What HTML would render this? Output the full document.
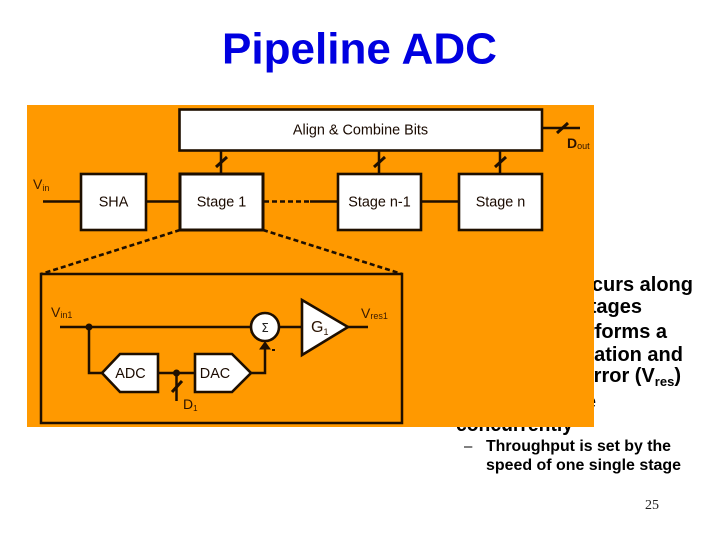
<!DOCTYPE html>
<html><head><meta charset="utf-8"><style>
html,body{margin:0;padding:0;background:#fff;width:720px;height:540px;overflow:hidden}
svg{display:block;font-family:"Liberation Sans",sans-serif}
.b{font-weight:bold;font-size:20px;fill:#000}
.s{font-weight:bold;font-size:16px;fill:#000}
.l{font-size:14.400px;fill:#1a0a00;text-anchor:middle}
.v{font-size:13px;fill:#3a1a00}
.w{fill:#fff;stroke:#1e0f00;stroke-width:2.600}
.n{fill:none;stroke:#1e0f00;stroke-width:2.500}
.d{fill:none;stroke:#1e0f00;stroke-width:2.600;stroke-dasharray:5 3}
.t{stroke:#1e0f00;stroke-width:3;fill:none}
</style></head><body>
<svg width="720" height="540" viewBox="0 0 720 540" xmlns="http://www.w3.org/2000/svg">
<text x="222" y="63.500" font-size="44" font-weight="bold" fill="#0000e0" textLength="275" lengthAdjust="spacingAndGlyphs">Pipeline ADC</text>

<g class="b">
<text class="b" x="693" y="291" text-anchor="end">occurs along</text>
<text class="b" x="642" y="313" text-anchor="end">stages</text>
<text class="b" x="667" y="338" text-anchor="end">performs a</text>
<text class="b" x="683" y="361" text-anchor="end">quantization and</text>
<text class="b" x="681" y="382" text-anchor="end">error (V<tspan font-size="13" dy="4">res</tspan><tspan dy="-4">)</tspan></text>
<text class="b" x="596" y="408" text-anchor="end">are</text>
<text class="b" x="456" y="431" textLength="117" lengthAdjust="spacingAndGlyphs">concurrently</text>
</g>
<text x="464" y="451" font-size="15">–</text>
<text class="s" x="486" y="451" textLength="185" lengthAdjust="spacingAndGlyphs">Throughput is set by the</text>
<text class="s" x="486" y="470" textLength="195" lengthAdjust="spacingAndGlyphs">speed of one single stage</text>
<text x="645" y="509" font-size="14" font-family="Liberation Serif, serif" fill="#222">25</text>

<rect x="27" y="105" width="567" height="322" fill="#ff9900"/>

<!-- top wires -->
<path class="n" d="M43 201.500H81M146 201.500H180M421 201.500H459"/>
<path class="d" d="M264 201.500H310"/><path class="n" d="M310 201.500H338"/>
<path class="n" d="M221 150V174M379 150V174M500 150V174M542 128H580"/>
<path class="t" d="M216 167L227 157M374 167L385 157M495 167L506 157M557 133L568 123"/>

<rect class="w" x="179.500" y="109.500" width="362.500" height="41"/>
<rect class="w" x="81" y="174" width="65" height="56"/>
<rect class="w" x="180" y="174" width="83" height="56" style="stroke-width:3"/>
<rect class="w" x="338" y="174" width="83" height="56"/>
<rect class="w" x="459" y="174" width="83" height="56"/>

<text class="l" x="360.500" y="134.500">Align &amp; Combine Bits</text>
<text class="l" x="113.500" y="206.500">SHA</text>
<text class="l" x="221.500" y="206.500">Stage 1</text>
<text class="l" x="379.500" y="206.500">Stage n-1</text>
<text class="l" x="500.500" y="206.500">Stage n</text>

<text x="33" y="189" font-size="14" fill="#3a1a00">V<tspan font-size="9" dy="2">in</tspan></text>
<text x="567" y="148" font-size="14" font-weight="bold" fill="#2a1200">D<tspan font-size="9" font-weight="normal" dy="1">out</tspan></text>

<!-- dashed zoom lines -->
<path class="d" d="M180 230L41 274M263 230L402 274"/>

<!-- inner box -->
<rect x="41" y="274" width="361" height="149" fill="none" stroke="#1e0f00" stroke-width="2.500"/>

<path class="n" d="M60 327H251M89 327V373H102M158 373H195M251 373H265V344M279 327H302M348 327H368M176.500 373V401"/>
<path class="t" d="M172 392L182 381"/>
<circle cx="89" cy="327" r="3.500" fill="#1e0f00"/>
<circle cx="176.500" cy="373" r="3.500" fill="#1e0f00"/>
<path d="M251 322L251 332L259 327Z" fill="#1e0f00" stroke="#1e0f00"/>
<path d="M260 349L270 349L265 342Z" fill="#1e0f00" stroke="#1e0f00"/>

<circle class="w" cx="265" cy="327" r="14"/>
<text x="265" y="332" font-size="12" text-anchor="middle" font-family="DejaVu Sans, sans-serif" fill="#222">Σ</text>
<rect x="272" y="349" width="3" height="2" fill="#1e0f00"/>

<path class="w" d="M302 300L348 327L302 355Z"/>
<path class="w" d="M102 373L120 354H158V392H120Z"/>
<path class="w" d="M195 354H232L251 373L232 392H195Z"/>

<text class="l" x="130.500" y="378">ADC</text>
<text class="l" x="215" y="378">DAC</text>
<text x="311" y="332" font-size="16" fill="#2a1200">G<tspan font-size="9" dy="3">1</tspan></text>
<text x="51" y="317" font-size="14" fill="#3a1a00">V<tspan font-size="9" dy="1">in1</tspan></text>
<text x="361" y="318" font-size="14" fill="#3a1a00">V<tspan font-size="9" dy="1">res1</tspan></text>
<text x="183" y="409" font-size="14" fill="#2a1200">D<tspan font-size="8" dy="2">1</tspan></text>
</svg>
</body></html>
